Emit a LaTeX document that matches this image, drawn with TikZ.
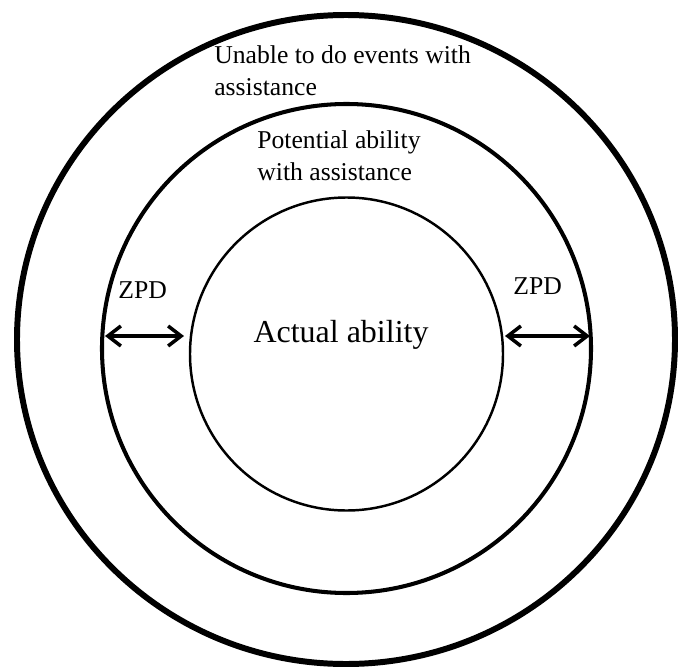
\documentclass[tikz,border=0pt]{standalone}
\usepackage{fontspec}
\setmainfont{Liberation Serif}
\usetikzlibrary{arrows.meta}
\tikzset{
    label text/.style={inner sep=0pt, font=\fontsize{14.6}{18.2}\selectfont, align=left},
    zpd arrow/.style={line width=2pt, {Straight Barb[length=2.6mm,width=4mm]}-{Straight Barb[length=2.6mm,width=4mm]}}
}
\begin{document}
\begin{tikzpicture}
    \useasboundingbox (0,0) rectangle (13.62,13.38);

    \draw[line width=3.4pt] (6.92,6.59) ellipse (6.58 and 6.49);
    \draw[line width=2.3pt] (6.93,6.41) circle (4.89);
    \draw[line width=1.4pt] (6.93,6.30) circle (3.13);

    \node[label text, anchor=north west] (unable) at (4.28,12.47) {Unable to do events with\\assistance};
    \node[label text, anchor=north west] (potential) at (5.14,10.77) {Potential ability\\with assistance};
    \node[inner sep=0pt, font=\fontsize{18.2}{22}\selectfont, anchor=base] (actual) at (6.82,6.53) {Actual ability};

    \node[label text, anchor=base west] (zpdl) at (2.36,7.42) {ZPD};
    \node[label text, anchor=base west] (zpdr) at (10.26,7.50) {ZPD};

    \coordinate (ml) at (2.10,6.66);
    \coordinate (il) at (3.68,6.66);
    \coordinate (ir) at (10.10,6.66);
    \coordinate (mr) at (11.80,6.66);
    \draw[zpd arrow] (ml) -- (il);
    \draw[zpd arrow] (ir) -- (mr);
\end{tikzpicture}
\end{document}
